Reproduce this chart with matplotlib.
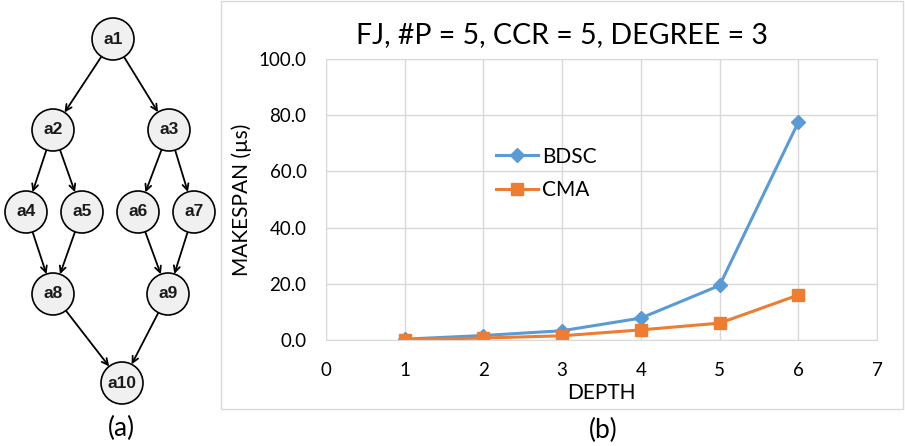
import matplotlib.pyplot as plt
from matplotlib.patches import Circle, Rectangle
import numpy as np

plt.rcParams['font.family'] = ['Lato', 'DejaVu Sans']

# makespan vs. depth
depth = [1, 2, 3, 4, 5, 6]
bdsc = [0.3, 1.6, 3.3, 7.8, 19.4, 77.5]
cma = [0.1, 0.7, 1.5, 3.6, 6.0, 16.0]

# fork-join task graph: node -> (x, y) in panel pixels
nodes = {
    'a1': (113, 39),
    'a2': (53, 130), 'a3': (169, 130),
    'a4': (26, 212), 'a5': (82, 212), 'a6': (138, 212), 'a7': (194, 212),
    'a8': (53, 294), 'a9': (168, 294),
    'a10': (122, 383),
}
edges = [('a1', 'a2'), ('a1', 'a3'),
         ('a2', 'a4'), ('a2', 'a5'), ('a3', 'a6'), ('a3', 'a7'),
         ('a4', 'a8'), ('a5', 'a8'), ('a6', 'a9'), ('a7', 'a9'),
         ('a8', 'a10'), ('a9', 'a10')]
R = 21

W, H = 905, 446
fig = plt.figure(figsize=(W / 100, H / 100), dpi=100)

# ---- (a) task graph ----
axg = fig.add_axes([0, 0, 230 / W, 1])
axg.set_xlim(0, 230)
axg.set_ylim(H, 0)
axg.axis('off')
for src, dst in edges:
    (x0, y0), (x1, y1) = nodes[src], nodes[dst]
    d = np.hypot(x1 - x0, y1 - y0)
    ux, uy = (x1 - x0) / d, (y1 - y0) / d
    axg.annotate('', xy=(x1 - ux * R, y1 - uy * R), xytext=(x0 + ux * R, y0 + uy * R),
                 arrowprops=dict(arrowstyle='->', lw=1.3, color='black',
                                 mutation_scale=11, shrinkA=0, shrinkB=0))
for name, (x, y) in nodes.items():
    axg.add_patch(Circle((x, y), R, facecolor='#f0f0f0', edgecolor='black', lw=1.2, zorder=3))
    axg.text(x, y, name, ha='center', va='center', fontsize=12.5, fontweight='bold',
             family='Liberation Sans', color='#1a1a1a', zorder=4)
axg.text(121, 428, '(a)', ha='center', va='center', fontsize=19)

# ---- (b) makespan chart ----
fig.patches.append(Rectangle((221 / W, 1 - 409 / H), (903 - 221) / W, (408) / H,
                             transform=fig.transFigure, fill=False,
                             edgecolor='#d9d9d9', lw=1))
fig.text(603 / W, 1 - 430 / H, '(b)', ha='center', va='center', fontsize=19)
fig.text(562 / W, 1 - 35 / H, 'FJ, #P = 5, CCR = 5, DEGREE = 3',
         ha='center', va='center', fontsize=20.5)

ax = fig.add_axes([326 / W, 1 - 340 / H, (877 - 326) / W, (340 - 59) / H])
ax.plot(depth, bdsc, color='#5B9BD5', lw=2.2, marker='D', markersize=7, label='BDSC')
ax.plot(depth, cma, color='#ED7D31', lw=2.2, marker='s', markersize=9, label='CMA')
ax.set_xlim(0, 7)
ax.set_ylim(0, 100)
ax.set_xticks(range(0, 8))
ax.set_yticks(range(0, 101, 20))
ax.set_yticklabels([f'{v:.1f}' for v in range(0, 101, 20)])
ax.grid(True, color='#d9d9d9', lw=1)
ax.set_axisbelow(True)
for s in ax.spines.values():
    s.set_color('#d9d9d9')
ax.tick_params(length=0, labelsize=13.5)
ax.tick_params(axis='x', pad=16)
ax.tick_params(axis='y', pad=14)
ax.set_xlabel('DEPTH', fontsize=15, labelpad=3)
ax.set_ylabel('MAKESPAN (µs)', fontsize=15, labelpad=5)
ax.legend(loc='upper left', bbox_to_anchor=(0.275, 0.755), frameon=False,
          fontsize=15, handlelength=2, handletextpad=0.2, labelspacing=0.65)

fig.savefig('out.png', dpi=100)
